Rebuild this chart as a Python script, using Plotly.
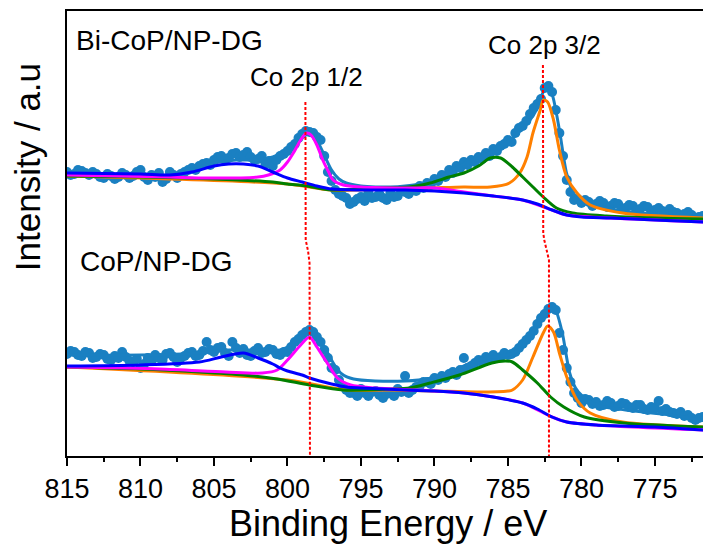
import plotly.graph_objects as go

# ---------------- measured data (binding energy in eV, intensity in a.u.) ----------------
energy = [815, 814.75, 814.5, 814.25, 814, 813.75, 813.5, 813.25,
          813, 812.75, 812.5, 812.25, 812, 811.75, 811.5, 811.25,
          811, 810.75, 810.5, 810.25, 810, 809.75, 809.5, 809.25,
          809, 808.75, 808.5, 808.25, 808, 807.75, 807.5, 807.25,
          807, 806.75, 806.5, 806.25, 806, 805.75, 805.5, 805.25,
          805, 804.75, 804.5, 804.25, 804, 803.75, 803.5, 803.25,
          803, 802.75, 802.5, 802.25, 802, 801.75, 801.5, 801.25,
          801, 800.75, 800.5, 800.25, 800, 799.75, 799.5, 799.25,
          799, 798.75, 798.5, 798.25, 798, 797.75, 797.5, 797.25,
          797, 796.75, 796.5, 796.25, 796, 795.75, 795.5, 795.25,
          795, 794.75, 794.5, 794.25, 794, 793.75, 793.5, 793.25,
          793, 792.75, 792.5, 792.25, 792, 791.75, 791.5, 791.25,
          791, 790.75, 790.5, 790.25, 790, 789.75, 789.5, 789.25,
          789, 788.75, 788.5, 788.25, 788, 787.75, 787.5, 787.25,
          787, 786.75, 786.5, 786.25, 786, 785.75, 785.5, 785.25,
          785, 784.75, 784.5, 784.25, 784, 783.75, 783.5, 783.25,
          783, 782.75, 782.5, 782.25, 782, 781.75, 781.5, 781.25,
          781, 780.75, 780.5, 780.25, 780, 779.75, 779.5, 779.25,
          779, 778.75, 778.5, 778.25, 778, 777.75, 777.5, 777.25,
          777, 776.75, 776.5, 776.25, 776, 775.75, 775.5, 775.25,
          775, 774.75, 774.5, 774.25, 774, 773.75, 773.5, 773.25,
          773, 772.75, 772.5, 772.25, 772, 771.75]

bi_cop = [284, 281, 282, 286, 285, 283, 281, 284,
          282, 279, 278, 282, 280, 277, 279, 283,
          281, 278, 280, 284, 286, 279, 276, 281,
          279, 283, 274, 277, 284, 281, 278, 282,
          284, 286, 288, 286, 290, 292, 293, 291,
          296, 299, 300, 296, 298, 302, 303, 299,
          301, 304, 299, 296, 297, 300, 292, 295,
          290, 296, 300, 302, 305, 309, 312, 318,
          322, 325, 324, 323, 319, 316, 300, 284,
          275, 266, 262, 260, 258, 252, 254, 257,
          259, 255, 263, 258, 259, 262, 258, 256,
          263, 259, 260, 266, 264, 262, 267, 265,
          270, 268, 273, 271, 277, 275, 281, 279,
          286, 283, 290, 288, 294, 291, 296, 294,
          299, 297, 303, 300, 307, 305, 310, 312,
          316, 314, 323, 328, 330, 335, 342, 348,
          352, 357, 368, 370, 364, 346, 323, 300,
          276, 264, 256, 257, 253, 256, 254, 250,
          252, 255, 253, 249, 250, 253, 252, 247,
          248, 251, 250, 246, 247, 250, 249, 244,
          246, 248, 245, 242, 247, 244, 243, 240,
          242, 244, 241, 238, 239, 240]

cop = [102, 105, 104, 101, 100, 104, 103, 98,
       99, 102, 101, 97, 96, 100, 98, 104,
       99, 95, 94, 97, 88, 92, 98, 95,
       101, 98, 96, 102, 103, 99, 94, 98,
       100, 103, 104, 100, 101, 105, 114, 106,
       104, 108, 109, 103, 100, 114, 108, 103,
       107, 101, 100, 105, 108, 103, 104, 107,
       106, 102, 101, 104, 104, 109, 114, 117,
       121, 124, 126, 124, 119, 114, 106, 98,
       88, 86, 76, 70, 66, 63, 63, 60,
       67, 63, 60, 64, 65, 61, 58, 62,
       63, 60, 67, 64, 80, 63, 66, 69,
       70, 74, 74, 72, 78, 76, 80, 78,
       82, 84, 81, 86, 98, 88, 90, 93,
       96, 94, 99, 97, 101, 98, 99, 103,
       101, 102, 104, 108, 112, 116, 120, 125,
       132, 138, 142, 147, 149, 146, 123, 106,
       88, 74, 63, 58, 53, 57, 56, 52,
       54, 50, 51, 55, 53, 49, 50, 53,
       52, 49, 48, 51, 51, 47, 46, 49,
       48, 55, 45, 47, 44, 43, 42, 44,
       40, 41, 38, 36, 38, 39]

# ---------------- fitted curves: Bi-CoP/NP-DG ----------------
bi_env_x = [815, 810, 808, 806.5, 805, 803.5, 802, 801, 800, 799.5, 799, 798.7, 798.3, 798, 797.5,
            797, 796.5, 796, 795, 794, 793, 792, 791, 790, 789, 788, 787, 786, 785, 784, 783.5,
            783, 782.6, 782.3, 782, 781.5, 781, 780.5, 780, 779, 778, 776, 774, 771.7]
bi_env_y = [283, 281, 281, 286, 293, 296, 296, 299, 306, 313, 321, 324, 322, 316, 301,
            286, 277, 273, 270, 269, 269, 270, 272, 276, 284, 292, 298, 305, 314, 328, 336,
            348, 364, 369, 362, 326, 282, 262, 256, 251, 247, 243, 240, 237]

bi_bg_x = [815, 810, 808, 806.5, 805, 804, 803, 802, 801, 800, 799, 798, 797, 795, 792, 790,
           788, 786, 784, 783, 782, 781, 780, 778, 775, 771.7]
bi_bg_y = [283, 282, 281, 284, 290, 292, 292, 290, 284, 278, 274, 270, 267, 266, 266, 265,
           263, 260, 256, 252, 246, 241, 239, 238, 236, 234]

bi_sat_x = [815, 810, 805, 801, 800, 798.7, 797, 794, 791.7, 790.3, 789, 788, 787, 786.2, 785.5,
            784.7, 784, 783.3, 782.6, 781.7, 780.6, 778.3, 775, 771.7]
bi_sat_y = [280, 279, 277, 274, 272, 270, 266, 268, 269, 273, 279, 283, 290, 298, 298,
            289, 279, 269, 259, 248, 243, 240, 238, 237]

bi_p32_x = [815, 800, 797, 793, 790.3, 788, 786.2, 784.9, 784.2, 783.7, 783.3, 782.8, 782.6,
            782.3, 781.9, 781.5, 781, 780.3, 779.4, 777.2, 771.7]
bi_p32_y = [280, 272, 266, 267, 268, 269, 269, 273, 283, 299, 323, 346, 356,
            354, 336, 306, 279, 263, 251, 243, 238]

bi_p12_x = [815, 808, 806, 802, 801.3, 800.5, 800, 799.6, 799.1, 798.7, 798.4, 798, 797.6, 797.2,
            796.9, 796.2, 795, 792, 790, 788, 786, 784, 782, 781, 778, 771.7]
bi_p12_y = [281, 279, 278, 279, 281, 286, 294, 303, 316, 323, 321, 311, 296, 284,
            276, 271, 269, 268, 268, 264, 260, 256, 246, 241, 238, 234]

# ---------------- fitted curves: CoP/NP-DG ----------------
co_env_x = [815, 810, 806, 804, 802, 800.5, 800, 799.5, 799, 798.6, 798.2, 797.8, 797.3, 796.8,
            796.3, 795.5, 794, 792, 790.5, 789, 788, 787, 786, 785, 784.5, 784, 783.5, 783,
            782.5, 782, 781.7, 781.3, 780.8, 780.4, 780, 779, 777, 774, 771.7]
co_env_y = [101, 101, 103, 106, 106, 106, 109, 115, 121, 125, 123, 116, 104, 91,
            82, 77, 75, 75, 77, 84, 90, 96, 99, 101, 104, 110, 120, 131,
            144, 151, 144, 123, 83, 68, 61, 51, 46, 41, 36]

co_bg_x = [815, 810, 806, 804.5, 803, 802, 801, 800.5, 800, 799, 798.5, 797, 796, 795, 792, 790,
           788, 786, 784, 783, 782, 781, 779, 775, 771.7]
co_bg_y = [90, 91, 94, 99, 103, 98, 92, 88, 85, 81, 78, 72, 69, 68, 66, 65,
           63, 59, 53, 47, 39, 34, 31, 29, 26]

co_sat_x = [815, 810, 806, 803, 800.7, 798.5, 796.2, 793, 791.7, 790.3, 788.3, 786.1, 785.2, 784.7,
            784, 783, 782.1, 781.2, 779.8, 777.1, 771.7]
co_sat_y = [89, 87, 84, 81, 77, 71, 66, 67, 68, 73, 81, 93, 95, 94,
            86, 73, 59, 49, 39, 33, 29]

co_p32_x = [815, 800, 796, 793, 790, 787, 785, 784.7, 784, 783.3, 782.6, 782.3, 781.9, 781.5, 781,
            780.3, 779.4, 777.2, 771.7]
co_p32_y = [89, 76, 66, 66, 65, 64, 65, 66, 76, 99, 123, 130, 124, 103, 79,
            56, 43, 34, 29]

co_p12_x = [815, 808.7, 804.2, 801.7, 800.7, 800, 799.1, 798.5, 798, 797.3, 796.6, 795.7, 794, 790,
            788, 786, 784, 782, 781, 779, 771.7]
co_p12_y = [89, 87, 84, 83, 86, 96, 111, 119, 109, 93, 78, 71, 68, 65,
            63, 59, 53, 39, 34, 31, 26]

# ---------------- peak guide lines ----------------
guide12_x = [798.78, 798.76, 798.6, 798.5, 798.47]
guide12_y = [354, 216, 205, 193, 0]
guide32_x = [782.62, 782.6, 782.53, 782.37, 782.21, 782.21]
guide32_y = [391, 223, 216, 206, 196, 0]

DOT = "#1a80c2"
FONT = "Liberation Sans, Arial, sans-serif"

fig = go.Figure()

for ys in (bi_cop, cop):
    fig.add_trace(go.Scatter(x=energy, y=ys, mode="markers",
                             marker=dict(color=DOT, size=10, line=dict(width=0))))

curves = [
    (bi_env_x, bi_env_y, DOT), (co_env_x, co_env_y, DOT),
    (bi_p32_x, bi_p32_y, "#ff8000"), (co_p32_x, co_p32_y, "#ff8000"),
    (bi_sat_x, bi_sat_y, "#008000"), (co_sat_x, co_sat_y, "#008000"),
    (bi_p12_x, bi_p12_y, "#ff00ff"), (co_p12_x, co_p12_y, "#ff00ff"),
    (bi_bg_x, bi_bg_y, "#0000ff"), (co_bg_x, co_bg_y, "#0000ff"),
]
for cx, cy, col in curves:
    fig.add_trace(go.Scatter(x=cx, y=cy, mode="lines",
                             line=dict(color=col, width=3, shape="spline", smoothing=0.8)))

for gx, gy in ((guide12_x, guide12_y), (guide32_x, guide32_y)):
    fig.add_trace(go.Scatter(x=gx, y=gy, mode="lines",
                             line=dict(color="#ff0000", width=2, dash="3px,2px")))

fig.update_layout(
    width=703, height=551,
    margin=dict(l=67, r=0, t=11, b=95, autoexpand=False),
    plot_bgcolor="white", paper_bgcolor="white",
    showlegend=False,
    font=dict(family=FONT, color="black"),
    xaxis=dict(
        range=[815, 771.73], tickmode="linear", tick0=815, dtick=5,
        ticks="outside", ticklen=8, tickwidth=1.5, tickcolor="black",
        showline=True, linecolor="black", linewidth=1.5, mirror=True,
        showgrid=False, zeroline=False, automargin=False,
        tickfont=dict(size=27, family=FONT),
        minor=dict(tick0=815, dtick=2.5, ticks="outside", ticklen=4, tickwidth=1.5,
                   tickcolor="black", showgrid=False),
    ),
    yaxis=dict(
        range=[0, 445], showline=True, linecolor="black", linewidth=1.5,
        showticklabels=False, ticks="", showgrid=False, zeroline=False, automargin=False,
    ),
    annotations=[
        dict(text="Binding Energy / eV", xref="paper", yref="paper", x=0.505, y=-0.1506,
             showarrow=False, font=dict(size=36, family=FONT),
             xanchor="center", yanchor="middle"),
        dict(text="Intensity / a.u", xref="paper", yref="paper", x=-0.063, y=0.649,
             textangle=-90, showarrow=False, font=dict(size=35, family=FONT),
             xanchor="center", yanchor="middle"),
        dict(text="Bi-CoP/NP-DG", xref="paper", yref="paper", x=0.011, y=0.933,
             showarrow=False, font=dict(size=28, family=FONT), xanchor="left", yanchor="middle"),
        dict(text="CoP/NP-DG", xref="paper", yref="paper", x=0.0173, y=0.436,
             showarrow=False, font=dict(size=28, family=FONT), xanchor="left", yanchor="middle"),
        dict(text="Co 2p 1/2", xref="paper", yref="paper", x=0.3758, y=0.852,
             showarrow=False, font=dict(size=26, family=FONT), xanchor="center", yanchor="middle"),
        dict(text="Co 2p 3/2", xref="paper", yref="paper", x=0.75, y=0.9236,
             showarrow=False, font=dict(size=26, family=FONT), xanchor="center", yanchor="middle"),
    ],
)

fig.write_html(
    "out.html",
    config={"displayModeBar": False},
    post_script="document.body.style.margin='0';document.body.style.overflow='hidden';",
)
